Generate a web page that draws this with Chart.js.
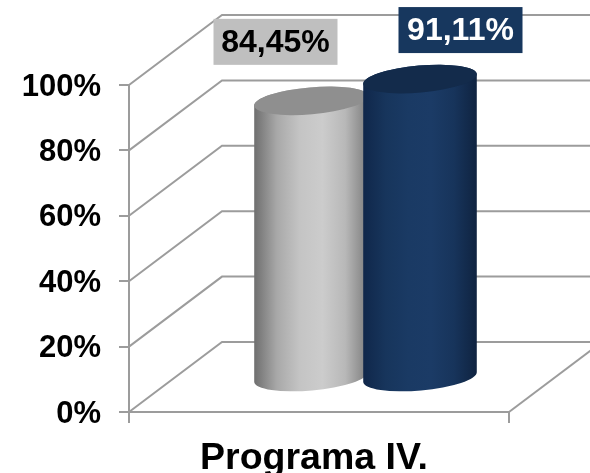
<!DOCTYPE html>
<html>
<head>
<meta charset="utf-8">
<title>Programa IV.</title>
<script src="https://cdn.jsdelivr.net/npm/chart.js@4/dist/chart.umd.min.js"></script>
<style>
  html, body { margin: 0; padding: 0; background: #fff; overflow: hidden; }
  canvas { display: block; }
</style>
</head>
<body>
<canvas id="chart" width="590" height="473"></canvas>
<script>
// Data
const categories = ['Programa IV.'];
const seriesGrey = [84.45];
const seriesBlue = [91.11];
const tickLabels = ['0%', '20%', '40%', '60%', '80%', '100%'];

const FONT = "'Liberation Sans', Arial, sans-serif";
const LINE = '#9c9c9c';

// Depth of the fake 3D box, in pixels
const DEPTH_X = 93;
const DEPTH_Y = -70;

// Back wall and floor lines, hung off the real y scale
const wallPlugin = {
  id: 'wall',
  beforeDatasetsDraw(chart) {
    const { ctx, chartArea: a, scales: { y } } = chart;
    ctx.save();
    ctx.strokeStyle = LINE;
    ctx.lineWidth = 2;
    y.ticks.forEach(t => {
      const py = y.getPixelForValue(t.value);
      ctx.beginPath();
      ctx.moveTo(a.left, py);
      ctx.lineTo(a.left + DEPTH_X, py + DEPTH_Y);
      ctx.lineTo(a.right + DEPTH_X, py + DEPTH_Y);
      ctx.stroke();
    });
    ctx.beginPath();
    ctx.moveTo(a.right, a.bottom);
    ctx.lineTo(a.right + DEPTH_X, a.bottom + DEPTH_Y);
    ctx.stroke();
    ctx.restore();
  }
};

// Draws each bar as a cylinder standing in the middle of the floor
const cylinderPlugin = {
  id: 'cylinders',
  afterDatasetsDraw(chart) {
    const { ctx, scales: { y } } = chart;
    const rot = -5 * Math.PI / 180;
    const ry = 13.5;
    chart.data.datasets.forEach((ds, i) => {
      chart.getDatasetMeta(i).data.forEach((bar, j) => {
        const rx = bar.width / 2 + 2.5;
        const cx = bar.x + DEPTH_X / 2;
        const top = y.getPixelForValue(ds.data[j]) + DEPTH_Y / 2;
        const bottom = y.getPixelForValue(0) + DEPTH_Y / 2;

        const grad = ctx.createLinearGradient(cx - rx, 0, cx + rx, 0);
        ds.sideStops.forEach((c, k) => grad.addColorStop(k / (ds.sideStops.length - 1), c));

        ctx.save();
        ctx.fillStyle = grad;
        ctx.beginPath();
        ctx.ellipse(cx, bottom, rx, ry, rot, 0, Math.PI);
        ctx.ellipse(cx, top, rx, ry, rot, Math.PI, 2 * Math.PI);
        ctx.closePath();
        ctx.fill();

        ctx.fillStyle = ds.topColor;
        ctx.beginPath();
        ctx.ellipse(cx, top, rx, ry, rot, 0, 2 * Math.PI);
        ctx.fill();
        ctx.restore();
      });
    });

    // Value labels go on top of everything
    chart.data.datasets.forEach((ds, i) => {
      chart.getDatasetMeta(i).data.forEach((bar, j) => {
        const cx = bar.x + DEPTH_X / 2 + ds.labelShift[0];
        const cy = y.getPixelForValue(ds.data[j]) + DEPTH_Y / 2 + ds.labelShift[1];
        ctx.save();
        ctx.fillStyle = ds.boxColor;
        ctx.fillRect(cx - 62, cy - 23, 124, 46);
        ctx.fillStyle = ds.textColor;
        ctx.font = 'bold 32px ' + FONT;
        ctx.textAlign = 'center';
        ctx.textBaseline = 'middle';
        ctx.fillText(ds.data[j].toFixed(2).replace('.', ',') + '%', cx, cy + 1);
        ctx.restore();
      });
    });
  }
};

new Chart(document.getElementById('chart'), {
  type: 'bar',
  data: {
    labels: categories,
    datasets: [
      {
        data: seriesGrey,
        backgroundColor: 'transparent',
        sideStops: ['#6e6e6e', '#a8a8a8', '#c4c4c4', '#cccccc', '#b8b8b8', '#7d7d7d'],
        topColor: '#8f8f8f',
        boxColor: '#bfbfbf',
        textColor: '#000000',
        labelShift: [-35.5, -59]
      },
      {
        data: seriesBlue,
        backgroundColor: 'transparent',
        sideStops: ['#10274a', '#17355c', '#1a3a64', '#1b3b66', '#17345b', '#0f2340'],
        topColor: '#132b4b',
        boxColor: '#17375e',
        textColor: '#ffffff',
        labelShift: [40.5, -49]
      }
    ]
  },
  options: {
    responsive: false,
    animation: false,
    categoryPercentage: 0.5737,
    barPercentage: 1,
    layout: { padding: { top: 85, right: 81, left: 0, bottom: 0 } },
    plugins: {
      legend: { display: false },
      tooltip: { enabled: false }
    },
    scales: {
      x: {
        afterFit(scale) { scale.height = 61; },
        grid: { drawOnChartArea: false, color: LINE, lineWidth: 2, tickLength: 11 },
        border: { color: LINE, width: 2 },
        ticks: {
          color: '#000',
          padding: 13,
          labelOffset: -5,
          maxRotation: 0,
          font: { family: FONT, weight: 'bold', size: 37.5 }
        }
      },
      y: {
        min: 0,
        max: 100,
        afterFit(scale) { scale.width = 129; },
        grid: { drawOnChartArea: false, color: LINE, lineWidth: 2, tickLength: 10 },
        border: { color: LINE, width: 2 },
        ticks: {
          stepSize: 20,
          color: '#000',
          padding: 18,
          labelOffset: 2,
          font: { family: FONT, weight: 'bold', size: 31 },
          callback: (value, index) => tickLabels[index]
        }
      }
    }
  },
  plugins: [wallPlugin, cylinderPlugin]
});
</script>
</body>
</html>
